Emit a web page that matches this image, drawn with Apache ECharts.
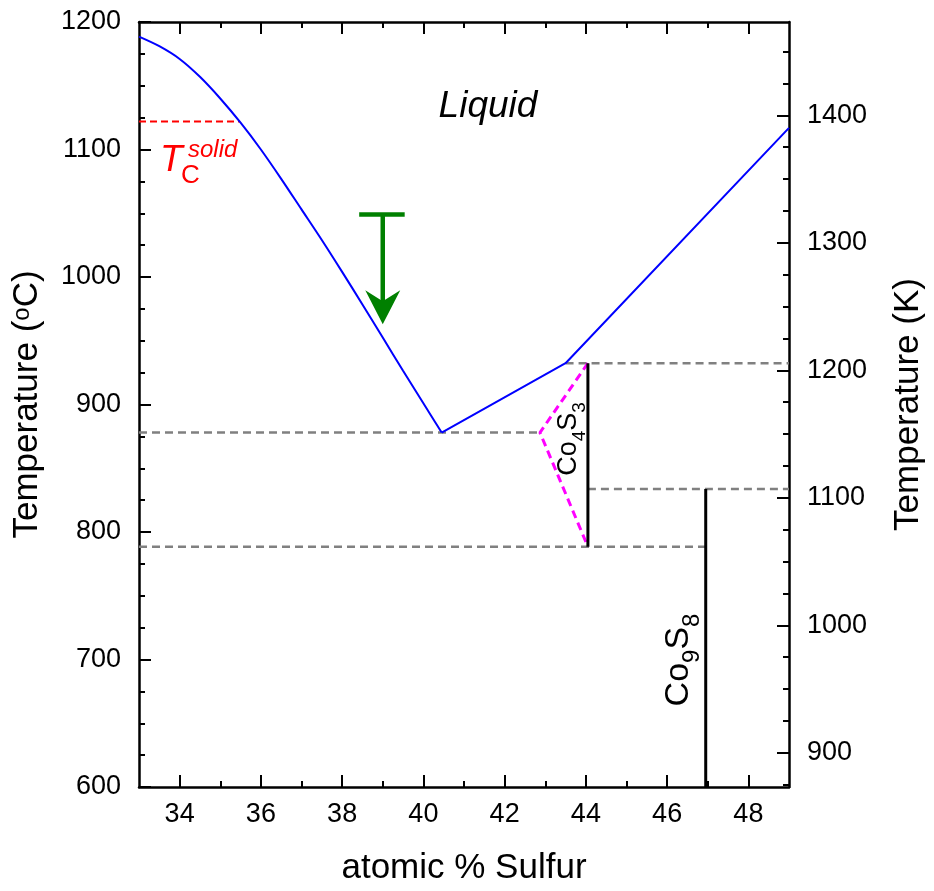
<!DOCTYPE html>
<html>
<head>
<meta charset="utf-8">
<script src="https://cdn.jsdelivr.net/npm/echarts@6/dist/echarts.min.js"></script>
<style>html,body{margin:0;padding:0;background:#fff}#chart{width:934px;height:891px}</style>
</head>
<body>
<div id="chart"></div>
<script>
// ---------- data ----------
const liquidusCurveS = [33.0, 33.5, 34.0, 34.5, 35.0, 35.5, 36.0, 36.5, 37.0, 37.5, 38.0, 38.5, 39.0, 39.5, 40.0, 40.45];
const liquidusCurveT = [1188.5, 1181, 1171, 1157, 1140, 1121, 1100, 1077, 1053, 1029, 1004, 978.5, 952.5, 926.5, 901, 878];
const liquidusRightS = [40.45, 43.5, 49.0];
const liquidusRightT = [878, 932.4, 1117];

const tcSolidS = [33.0, 35.48];
const tcSolidT = 1122;

const eutecticT = 878;      // grey dashed at the liquidus minimum
const peritecticT = 932.4;  // grey dashed at the Co4S3 top
const co9s8TopT = 833.8;    // grey dashed at the Co9S8 top
const co4s3LowT = 788.4;    // grey dashed at the Co4S3 bottom

const co4s3S = 44.05;
const co4s3ApexS = 42.87;
const co9s8S = 46.95;
const kinkS = 43.5;

const xMin = 33, xMax = 49;
const yMinC = 600, yMaxC = 1200;
const kelvinOffset = 273.15;

const xMajorTicks = [34, 36, 38, 40, 42, 44, 46, 48];
const xMinorTicks = [35, 37, 39, 41, 43, 45, 47];
const yMajorTicks = [600, 700, 800, 900, 1000, 1100, 1200];
const yMinorTicks = [625, 650, 675, 725, 750, 775, 825, 850, 875, 925, 950, 975, 1025, 1050, 1075, 1125, 1150, 1175];
const kMajorTicks = [900, 1000, 1100, 1200, 1300, 1400];
const kMinorTicks = [875, 925, 950, 975, 1025, 1050, 1075, 1125, 1150, 1175, 1225, 1250, 1275, 1325, 1350, 1375, 1425, 1450];

// arrow: [S, T of bar, T of tip, S bar left, S bar right]
const arrowData = [[39.0, 1049, 963, 38.42, 39.54]];

// ---------- chart ----------
const FONT = '"Liberation Sans", Arial, Helvetica, sans-serif';
const GREEN = '#008000';
const chart = echarts.init(document.getElementById('chart'), null, {renderer: 'canvas'});

function plain(v) { return String(v); }

function xAxisDef(position, ticks, len, showLine, showLabel) {
  return {
    type: 'value', position: position, min: xMin, max: xMax,
    axisLine: {show: showLine, onZero: false, lineStyle: {color: '#000', width: 2.5}},
    axisTick: {show: true, inside: true, length: len, customValues: ticks, lineStyle: {color: '#000', width: 2}},
    axisLabel: showLabel ? {show: true, customValues: ticks, formatter: plain, fontSize: 27, color: '#000', fontFamily: FONT, margin: 14} : {show: false},
    splitLine: {show: false}
  };
}
function yAxisDef(position, min, max, ticks, len, showLine, showLabel) {
  return {
    type: 'value', position: position, min: min, max: max,
    axisLine: {show: showLine, onZero: false, lineStyle: {color: '#000', width: 2.5}},
    axisTick: {show: true, inside: true, length: len, customValues: ticks, lineStyle: {color: '#000', width: 2}},
    axisLabel: showLabel ? {show: true, customValues: ticks, formatter: plain, fontSize: 27, color: '#000', fontFamily: FONT, margin: 18} : {show: false},
    splitLine: {show: false}
  };
}

const xA0 = xAxisDef('bottom', xMajorTicks, 12, true, true);
xA0.name = 'atomic % Sulfur';
xA0.nameLocation = 'middle';
xA0.nameGap = 64;
xA0.nameTextStyle = {fontSize: 35, color: '#000', fontFamily: FONT};

const yA0 = yAxisDef('left', yMinC, yMaxC, yMajorTicks, 12, true, true);
yA0.name = '{n|Temperature (}{s|o}{n|C)}';
yA0.nameLocation = 'middle';
yA0.nameGap = 89;
yA0.nameTextStyle = {color: '#000', fontFamily: FONT, rich: {
  n: {fontSize: 35, fontFamily: FONT, color: '#000', lineHeight: 40, verticalAlign: 'top'},
  s: {fontSize: 24, fontFamily: FONT, color: '#000', lineHeight: 18, verticalAlign: 'top'}
}};

const yA2 = yAxisDef('right', yMinC + kelvinOffset, yMaxC + kelvinOffset, kMajorTicks, 12, true, true);
yA2.name = 'Temperature (K)';
yA2.nameLocation = 'middle';
yA2.nameGap = 102;
yA2.nameTextStyle = {fontSize: 35, color: '#000', fontFamily: FONT};

function seg(s1, s2, t1, t2) { return [[s1, t1], [s2, t2]]; }
function lineSeries(data, color, width, type, z, smooth) {
  return {type: 'line', xAxisIndex: 0, yAxisIndex: 0, data: data, showSymbol: false, symbol: 'none', smooth: smooth || false,
    lineStyle: {color: color, width: width, type: type}, silent: true, animation: false, z: z || 2};
}

const option = {
  animation: false,
  backgroundColor: '#fff',
  grid: {left: 139, right: 142, top: 22, bottom: 102, containLabel: false},
  xAxis: [
    xA0,
    xAxisDef('bottom', xMinorTicks, 6, false, false),
    xAxisDef('top', xMajorTicks, 12, true, false),
    xAxisDef('top', xMinorTicks, 6, false, false)
  ],
  yAxis: [
    yA0,
    yAxisDef('left', yMinC, yMaxC, yMinorTicks, 6, false, false),
    yA2,
    yAxisDef('right', yMinC + kelvinOffset, yMaxC + kelvinOffset, kMinorTicks, 6, false, false)
  ],
  series: [
    lineSeries(seg(xMin, co4s3ApexS, eutecticT, eutecticT), '#808080', 2.5, [8, 5]),
    lineSeries(seg(kinkS, xMax, peritecticT, peritecticT), '#808080', 2.5, [8, 5]),
    lineSeries(seg(co4s3S, xMax, co9s8TopT, co9s8TopT), '#808080', 2.5, [8, 5]),
    lineSeries(seg(xMin, co9s8S, co4s3LowT, co4s3LowT), '#808080', 2.5, [8, 5]),
    lineSeries(seg(tcSolidS[0], tcSolidS[1], tcSolidT, tcSolidT), '#ff0000', 2, [7, 4]),
    lineSeries([[co4s3S, peritecticT], [co4s3ApexS, eutecticT], [co4s3S, co4s3LowT]], '#ff00ff', 3, [8, 5], 3),
    lineSeries(seg(co4s3S, co4s3S, co4s3LowT, peritecticT), '#000', 3, 'solid', 4),
    lineSeries(seg(co9s8S, co9s8S, yMinC, co9s8TopT), '#000', 3, 'solid', 4),
    lineSeries(liquidusCurveS.map((s, i) => [s, liquidusCurveT[i]]), '#0000ff', 2, 'solid', 5, 0.3),
    lineSeries(liquidusRightS.map((s, i) => [s, liquidusRightT[i]]), '#0000ff', 2, 'solid', 5),
    {
      type: 'custom', xAxisIndex: 0, yAxisIndex: 0, data: arrowData, silent: true, animation: false, z: 6,
      encode: {x: [0, 3, 4], y: [1, 2]},
      renderItem: function (params, api) {
        const top = api.coord([api.value(0), api.value(1)]);
        const tip = api.coord([api.value(0), api.value(2)]);
        const l = api.coord([api.value(3), api.value(1)]);
        const r = api.coord([api.value(4), api.value(1)]);
        const headH = 34, headW = 35, notch = 11;
        return {type: 'group', children: [
          {type: 'line', shape: {x1: l[0], y1: l[1], x2: r[0], y2: r[1]}, style: {stroke: GREEN, lineWidth: 4.5}},
          {type: 'line', shape: {x1: top[0], y1: top[1], x2: tip[0], y2: tip[1] - headH + notch + 2}, style: {stroke: GREEN, lineWidth: 4.5}},
          {type: 'polygon', shape: {points: [[tip[0], tip[1]], [tip[0] - headW / 2, tip[1] - headH], [tip[0], tip[1] - headH + notch], [tip[0] + headW / 2, tip[1] - headH]]}, style: {fill: GREEN}}
        ]};
      }
    }
  ],
  graphic: [
    {type: 'text', x: 488, y: 107, z: 10, style: {text: 'Liquid', font: 'italic 37px ' + FONT, fill: '#000', align: 'center', verticalAlign: 'middle'}},
    {type: 'text', x: 160, y: 161, z: 10, style: {text: 'T', font: 'italic 37px ' + FONT, fill: '#ff0000', align: 'left', verticalAlign: 'middle'}},
    {type: 'text', x: 181, y: 176, z: 10, style: {text: 'C', font: '26px ' + FONT, fill: '#ff0000', align: 'left', verticalAlign: 'middle'}},
    {type: 'text', x: 188, y: 150, z: 10, style: {text: 'solid', font: 'italic 24px ' + FONT, fill: '#ff0000', align: 'left', verticalAlign: 'middle'}},
    {type: 'text', x: 572, y: 439, rotation: Math.PI / 2, z: 10, style: {
      text: '{a|Co}{b|4}{a|S}{b|3}', align: 'center', verticalAlign: 'middle',
      rich: {
        a: {fontSize: 27, fontFamily: FONT, fill: '#000', color: '#000', lineHeight: 34, verticalAlign: 'top'},
        b: {fontSize: 19, fontFamily: FONT, fill: '#000', color: '#000', lineHeight: 19, verticalAlign: 'bottom'}
      }}},
    {type: 'text', x: 683, y: 660, rotation: Math.PI / 2, z: 10, style: {
      text: '{a|Co}{b|9}{a|S}{b|8}', align: 'center', verticalAlign: 'middle',
      rich: {
        a: {fontSize: 34, fontFamily: FONT, fill: '#000', color: '#000', lineHeight: 42, verticalAlign: 'top'},
        b: {fontSize: 24, fontFamily: FONT, fill: '#000', color: '#000', lineHeight: 24, verticalAlign: 'bottom'}
      }}}
  ]
};
chart.setOption(option);
</script>
</body>
</html>
